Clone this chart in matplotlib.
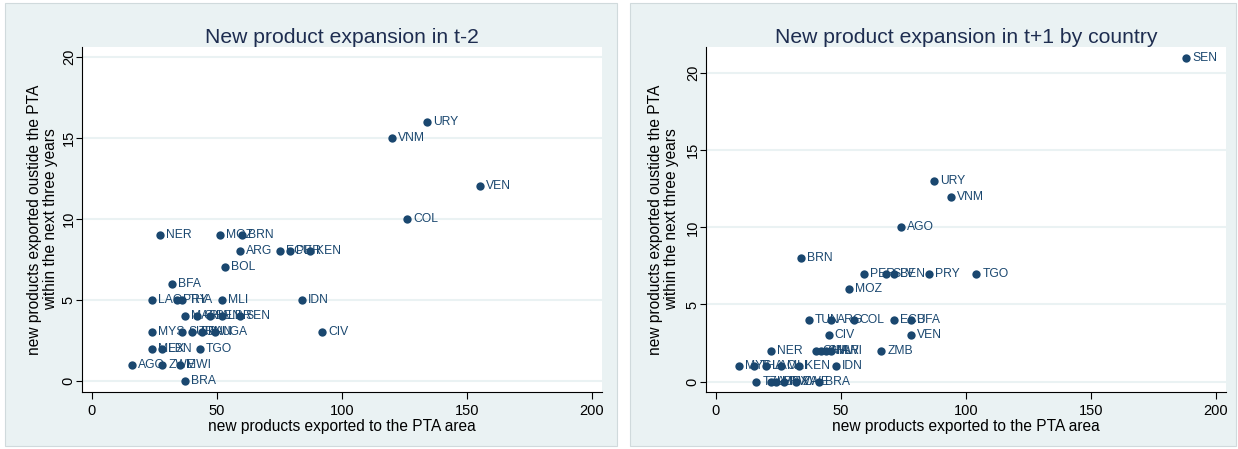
import matplotlib
matplotlib.use("Agg")
import matplotlib.pyplot as plt
from matplotlib.patches import Rectangle

plt.rcParams['font.family'] = ['Liberation Sans', 'DejaVu Sans']

# Left panel: new product expansion in t-2
lab_l = ["URY", "VNM", "VEN", "COL", "NER", "MOZ", "BRN", "ARG", "ECU", "PER",
         "KEN", "BOL", "BFA", "LAO", "PRY", "THA", "MLI", "IDN", "MAR", "GHA",
         "BEN", "LBR", "SEN", "MYS", "SUR", "TUN", "PAN", "UGA", "CIV", "MEX",
         "LBN", "TGO", "AGO", "ZWE", "MWI", "BRA"]
x_l = [134, 120, 155, 126, 27, 51, 60, 59, 75, 79,
       87, 53, 32, 24, 34, 36, 52, 84, 37, 42,
       47, 52, 59, 24, 36, 40, 44, 49, 92, 24,
       28, 43, 16, 28, 35, 37]
y_l = [16, 15, 12, 10, 9, 9, 9, 8, 8, 8,
       8, 7, 6, 5, 5, 5, 5, 5, 4, 4,
       4, 4, 4, 3, 3, 3, 3, 3, 3, 2,
       2, 2, 1, 1, 1, 0]

# Right panel: new product expansion in t+1
lab_r = ["SEN", "URY", "VNM", "AGO", "BRN", "PER", "SLV", "BEN", "PRY", "TGO",
         "MOZ", "TUN", "ARG", "COL", "ECU", "BFA", "CIV", "VEN", "NER", "GHA",
         "CHL", "MAR", "MWI", "ZMB", "MYS", "THA", "LAO", "MLI", "KEN", "IDN",
         "TZA", "LBN", "MEX", "RWA", "ZWE", "BRA"]
x_r = [188, 87, 94, 74, 34, 59, 68, 71, 85, 104,
       53, 37, 46, 55, 71, 78, 45, 78, 22, 40,
       42, 44, 46, 66, 9, 15, 20, 26, 33, 48,
       16, 22, 24, 27, 32, 41]
y_r = [21, 13, 12, 10, 8, 7, 7, 7, 7, 7,
       6, 4, 4, 4, 4, 4, 3, 3, 2, 2,
       2, 2, 2, 2, 1, 1, 1, 1, 1, 1,
       0, 0, 0, 0, 0, 0]

W, H = 1238, 449
navy = "#1a476f"
bg = "#eaf2f3"

fig = plt.figure(figsize=(W / 100, H / 100), dpi=100)
fig.patch.set_facecolor("white")

# panel backgrounds (pixel boxes)
for x0, x1 in [(5, 617), (630, 1236)]:
    fig.patches.append(Rectangle((x0 / W, 3 / H), (x1 - x0) / W, (H - 6) / H,
                                 transform=fig.transFigure, facecolor=bg,
                                 edgecolor="#d0dadc", lw=0.8, zorder=-5))


def panel(left, right, xs, ys, labels, ymax, title, ylab_x):
    ax = fig.add_axes([left / W, (H - 392) / H, (right - left) / W, (392 - 47) / H])
    ax.set_zorder(2)
    ax.set_facecolor("white")
    ax.scatter(xs, ys, s=36, color=navy, zorder=3, linewidths=0)
    for xv, yv, t in zip(xs, ys, labels):
        ax.annotate(t, (xv, yv), xytext=(4.5, 0), textcoords="offset points",
                    va="center", ha="left", fontsize=8.7, color=navy, zorder=4)
    ax.set_xlim(-4, 204)
    ax.set_ylim(-0.68, ymax)
    ax.set_xticks([0, 50, 100, 150, 200])
    ax.set_yticks([0, 5, 10, 15, 20])
    ax.grid(axis="y", color=bg, lw=1.5)
    ax.set_axisbelow(True)
    for s in ["top", "right"]:
        ax.spines[s].set_visible(False)
    for s in ["left", "bottom"]:
        ax.spines[s].set_color("black")
        ax.spines[s].set_linewidth(0.8)
    ax.tick_params(axis="both", length=5, width=0.8, labelsize=10.5, color="black")
    ax.tick_params(axis="y", labelrotation=90, pad=0.5, length=4)
    for lbl in ax.get_yticklabels():
        lbl.set_va("center")
    ax.set_xlabel("new products exported to the PTA area", fontsize=11.2, labelpad=1)
    ax.set_ylabel("new products exported oustide the PTA\nwithin the next three years",
                  fontsize=11.2, linespacing=1.1)
    ax.yaxis.set_label_coords(ylab_x, 0.5)
    ax.set_title(title, fontsize=15.2, color="#1e2d50", pad=3)
    return ax


panel(82, 602, x_l, y_l, lab_l, 20.6, "New product expansion in t-2", -0.046)
panel(706, 1226, x_r, y_r, lab_r, 21.7, "New product expansion in t+1 by country", -0.052)

fig.savefig("out.png", dpi=100, facecolor=fig.get_facecolor())
